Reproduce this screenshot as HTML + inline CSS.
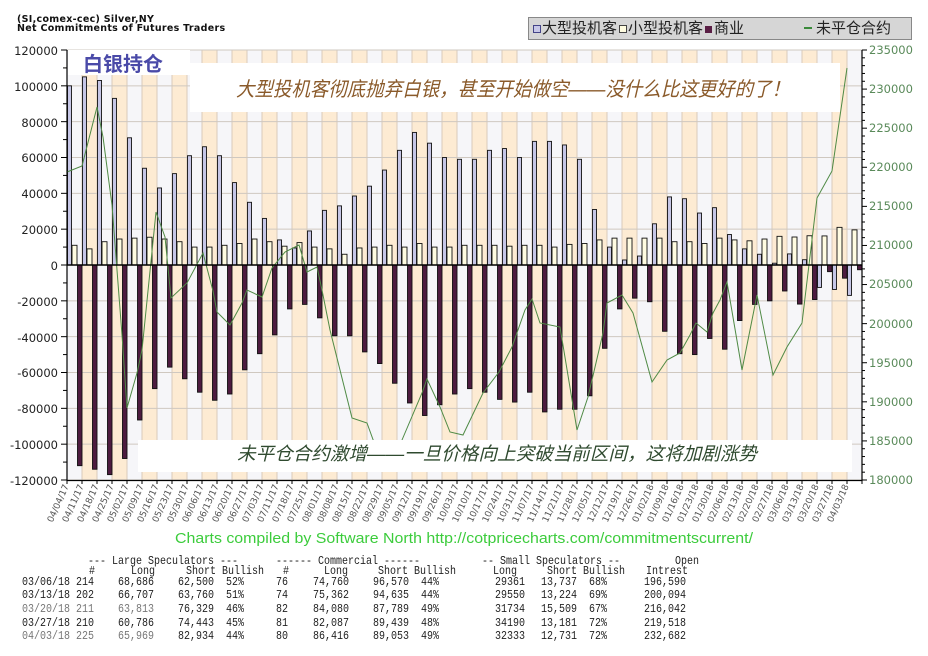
<!DOCTYPE html>
<html><head><meta charset="utf-8">
<style>
html,body{margin:0;padding:0;background:#fff;}
body{width:928px;height:656px;position:relative;overflow:hidden;font-family:"Liberation Sans","Noto Sans CJK SC",sans-serif;}
.t{position:absolute;font-family:"Liberation Mono","DejaVu Sans Mono",monospace;font-size:10px;color:#222;white-space:pre;line-height:12px;transform:scaleY(1.15);}
.g{color:#777;}
</style></head><body>
<div style="position:absolute;left:17px;top:15px;font-family:'DejaVu Sans',sans-serif;font-weight:bold;font-size:9.5px;line-height:9px;color:#111;letter-spacing:0.3px">(SI,comex-cec) Silver,NY<br>Net Commitments of Futures Traders</div>
<div style="position:absolute;left:528px;top:17px;width:384px;height:23px;background:#d6d6d6;border:1px solid #888;box-sizing:border-box;font-family:'DejaVu Sans','Noto Sans CJK SC',sans-serif;font-size:15px;line-height:21px;color:#222;white-space:nowrap;">
<span style="display:inline-block;width:6px;height:6px;border:1px solid #448;background:#c8c8e8;margin:0 1px 0 4px"></span>大型投机客<span style="display:inline-block;width:6px;height:6px;border:1px solid #444;background:#fffce0;margin:0 1px 0 2px"></span>小型投机客<span style="display:inline-block;width:7px;height:7px;background:#5a1f45;margin:0 2px 0 2px"></span>商业<span style="display:inline-block;width:8px;height:2px;background:#3a8a3a;margin:0 4px 4px 60px"></span>未平仓合约</div>
<svg id="c" width="928" height="656" style="position:absolute;left:0;top:0" xmlns="http://www.w3.org/2000/svg">
<g id="bg"></g>
<g id="bars"></g>
<polyline fill="none" stroke="#4f8a45" stroke-width="1" points="67,172 82,166 97,107 103,137 112,205 122,335 127,408 137,373 142,350 156,212 165,237 171,298 187,283 203,253 213,291 217,312 230,325 242,303 247,290 262,297 272,268 285,252 299,245 307,272 317,267 322,290 330,330 340,370 352,418 367,423 375,445 390,470 402,440 422,393 427,379 440,407 450,432 463,435 483,393 499,372 512,347 525,310 532,299 540,323 560,327 577,430 588,397 603,333 607,303 622,295 633,313 652,382 667,360 680,353 690,335 696,323 707,332 713,313 720,300 727,282 742,370 757,295 773,375 787,347 802,323 817,198 832,171 847,68"/>
<rect x="68" y="50" width="122" height="25" fill="#fff"/>
<rect x="190" y="63" width="650" height="49" fill="#fff"/>
<rect x="138" y="440" width="714" height="32" fill="#fff"/>
<text x="83" y="71" font-family="Liberation Sans,Noto Sans CJK SC,sans-serif" font-size="20" font-weight="bold" fill="#4a4aa8">白银持仓</text>
<text x="236" y="96" font-family="Liberation Sans,Noto Sans CJK SC,sans-serif" font-size="20" font-style="italic" fill="#8a5a2a" textLength="554" lengthAdjust="spacingAndGlyphs">大型投机客彻底抛弃白银，甚至开始做空——没什么比这更好的了！</text>
<text x="237" y="460" font-family="Liberation Sans,Noto Sans CJK SC,sans-serif" font-size="18.5" font-style="italic" fill="#2f4a2f" textLength="520" lengthAdjust="spacingAndGlyphs">未平仓合约激增——一旦价格向上突破当前区间，这将加剧涨势</text>
<g id="axes" stroke="#000" stroke-width="1.2"><line x1="67" y1="50" x2="67" y2="481"/><line x1="862" y1="50" x2="862" y2="481"/><line x1="67" y1="480.5" x2="862" y2="480.5"/><line x1="67" y1="265" x2="862" y2="265" stroke-width="1.5"/></g>
<g id="ticks" stroke="#000" stroke-width="1"></g>
<g font-family="DejaVu Sans,sans-serif" font-size="11.5" fill="#222" text-anchor="end">
<text x="58" y="55">120000</text><text x="58" y="91">100000</text><text x="58" y="127">80000</text><text x="58" y="162">60000</text><text x="58" y="198">40000</text><text x="58" y="234">20000</text><text x="58" y="270">0</text><text x="58" y="306">-20000</text><text x="58" y="342">-40000</text><text x="58" y="377">-60000</text><text x="58" y="413">-80000</text><text x="58" y="449">-100000</text><text x="58" y="485">-120000</text>
</g>
<g font-family="DejaVu Sans,sans-serif" font-size="11.5" fill="#5a8a5a">
<text x="869" y="54">235000</text><text x="869" y="93">230000</text><text x="869" y="132">225000</text><text x="869" y="171">220000</text><text x="869" y="210">215000</text><text x="869" y="249">210000</text><text x="869" y="288">205000</text><text x="869" y="328">200000</text><text x="869" y="367">195000</text><text x="869" y="406">190000</text><text x="869" y="445">185000</text><text x="869" y="484">180000</text>
</g>
<g font-family="DejaVu Sans,sans-serif" font-size="9" fill="#555" text-anchor="end" id="dl">
<text transform="translate(69,486) rotate(-66)">04/04/17</text>
<text transform="translate(84,486) rotate(-66)">04/11/17</text>
<text transform="translate(99,486) rotate(-66)">04/18/17</text>
<text transform="translate(114,486) rotate(-66)">04/25/17</text>
<text transform="translate(129,486) rotate(-66)">05/02/17</text>
<text transform="translate(144,486) rotate(-66)">05/09/17</text>
<text transform="translate(159,486) rotate(-66)">05/16/17</text>
<text transform="translate(174,486) rotate(-66)">05/23/17</text>
<text transform="translate(189,486) rotate(-66)">05/30/17</text>
<text transform="translate(204,486) rotate(-66)">06/06/17</text>
<text transform="translate(219,486) rotate(-66)">06/13/17</text>
<text transform="translate(234,486) rotate(-66)">06/20/17</text>
<text transform="translate(249,486) rotate(-66)">06/27/17</text>
<text transform="translate(264,486) rotate(-66)">07/03/17</text>
<text transform="translate(279,486) rotate(-66)">07/11/17</text>
<text transform="translate(294,486) rotate(-66)">07/18/17</text>
<text transform="translate(309,486) rotate(-66)">07/25/17</text>
<text transform="translate(324,486) rotate(-66)">08/01/17</text>
<text transform="translate(339,486) rotate(-66)">08/08/17</text>
<text transform="translate(354,486) rotate(-66)">08/15/17</text>
<text transform="translate(369,486) rotate(-66)">08/22/17</text>
<text transform="translate(384,486) rotate(-66)">08/29/17</text>
<text transform="translate(399,486) rotate(-66)">09/05/17</text>
<text transform="translate(414,486) rotate(-66)">09/12/17</text>
<text transform="translate(429,486) rotate(-66)">09/19/17</text>
<text transform="translate(444,486) rotate(-66)">09/26/17</text>
<text transform="translate(459,486) rotate(-66)">10/03/17</text>
<text transform="translate(474,486) rotate(-66)">10/10/17</text>
<text transform="translate(489,486) rotate(-66)">10/17/17</text>
<text transform="translate(504,486) rotate(-66)">10/24/17</text>
<text transform="translate(519,486) rotate(-66)">10/31/17</text>
<text transform="translate(534,486) rotate(-66)">11/07/17</text>
<text transform="translate(549,486) rotate(-66)">11/14/17</text>
<text transform="translate(564,486) rotate(-66)">11/21/17</text>
<text transform="translate(579,486) rotate(-66)">11/28/17</text>
<text transform="translate(594,486) rotate(-66)">12/05/17</text>
<text transform="translate(609,486) rotate(-66)">12/12/17</text>
<text transform="translate(624,486) rotate(-66)">12/19/17</text>
<text transform="translate(639,486) rotate(-66)">12/26/17</text>
<text transform="translate(654,486) rotate(-66)">01/02/18</text>
<text transform="translate(669,486) rotate(-66)">01/09/18</text>
<text transform="translate(684,486) rotate(-66)">01/16/18</text>
<text transform="translate(699,486) rotate(-66)">01/23/18</text>
<text transform="translate(714,486) rotate(-66)">01/30/18</text>
<text transform="translate(729,486) rotate(-66)">02/06/18</text>
<text transform="translate(744,486) rotate(-66)">02/13/18</text>
<text transform="translate(759,486) rotate(-66)">02/20/18</text>
<text transform="translate(774,486) rotate(-66)">02/27/18</text>
<text transform="translate(789,486) rotate(-66)">03/06/18</text>
<text transform="translate(804,486) rotate(-66)">03/13/18</text>
<text transform="translate(819,486) rotate(-66)">03/20/18</text>
<text transform="translate(834,486) rotate(-66)">03/27/18</text>
<text transform="translate(849,486) rotate(-66)">04/03/18</text>
</g>
<text x="175" y="543" font-family="Liberation Sans,sans-serif" font-size="15" fill="#3ccc3c" textLength="578" lengthAdjust="spacingAndGlyphs">Charts compiled by Software North  http://cotpricecharts.com/commitmentscurrent/</text>
</svg>
<div class="t" style="left:88px;top:557px">--- Large Speculators ---</div>
<div class="t" style="left:276px;top:557px">------ Commercial ------</div>
<div class="t" style="left:482px;top:557px">-- Small Speculators --</div>
<div class="t" style="left:663px;top:557px">  Open</div>
<div class="t" style="left:89px;top:567px">#</div><div class="t" style="left:131px;top:567px">Long</div><div class="t" style="left:186px;top:567px">Short Bullish</div>
<div class="t" style="left:283px;top:567px">#</div><div class="t" style="left:324px;top:567px">Long</div><div class="t" style="left:378px;top:567px">Short Bullish</div>
<div class="t" style="left:493px;top:567px">Long</div><div class="t" style="left:547px;top:567px">Short Bullish</div><div class="t" style="left:646px;top:567px">Intrest</div>

<div class="t" style="left:22px;top:578px">03/06/18 214</div><div class="t" style="left:118px;top:578px">68,686</div><div class="t" style="left:178px;top:578px">62,500  52%</div><div class="t" style="left:276px;top:578px">76</div><div class="t" style="left:313px;top:578px">74,760</div><div class="t" style="left:373px;top:578px">96,570  44%</div><div class="t" style="left:495px;top:578px">29361</div><div class="t" style="left:541px;top:578px">13,737  68%</div><div class="t" style="left:644px;top:578px">196,590</div>
<div class="t" style="left:22px;top:591px">03/13/18 202</div><div class="t" style="left:118px;top:591px">66,707</div><div class="t" style="left:178px;top:591px">63,760  51%</div><div class="t" style="left:276px;top:591px">74</div><div class="t" style="left:313px;top:591px">75,362</div><div class="t" style="left:373px;top:591px">94,635  44%</div><div class="t" style="left:495px;top:591px">29550</div><div class="t" style="left:541px;top:591px">13,224  69%</div><div class="t" style="left:644px;top:591px">200,094</div>
<div class="t" style="left:22px;top:605px"><span class="g">03/20/18 211</span></div><div class="t g" style="left:118px;top:605px">63,813</div><div class="t" style="left:178px;top:605px">76,329  46%</div><div class="t" style="left:276px;top:605px">82</div><div class="t" style="left:313px;top:605px">84,080</div><div class="t" style="left:373px;top:605px">87,789  49%</div><div class="t" style="left:495px;top:605px">31734</div><div class="t" style="left:541px;top:605px">15,509  67%</div><div class="t" style="left:644px;top:605px">216,042</div>
<div class="t" style="left:22px;top:619px">03/27/18 210</div><div class="t" style="left:118px;top:619px">60,786</div><div class="t" style="left:178px;top:619px">74,443  45%</div><div class="t" style="left:276px;top:619px">81</div><div class="t" style="left:313px;top:619px">82,087</div><div class="t" style="left:373px;top:619px">89,439  48%</div><div class="t" style="left:495px;top:619px">34190</div><div class="t" style="left:541px;top:619px">13,181  72%</div><div class="t" style="left:644px;top:619px">219,518</div>
<div class="t" style="left:22px;top:632px"><span class="g">04/03/18 225</span></div><div class="t g" style="left:118px;top:632px">65,969</div><div class="t" style="left:178px;top:632px">82,934  44%</div><div class="t" style="left:276px;top:632px">80</div><div class="t" style="left:313px;top:632px">86,416</div><div class="t" style="left:373px;top:632px">89,053  49%</div><div class="t" style="left:495px;top:632px">32333</div><div class="t" style="left:541px;top:632px">12,731  72%</div><div class="t" style="left:644px;top:632px">232,682</div>
<script>
(function(){
var NS="http://www.w3.org/2000/svg";
function r(g,x,y,w,h,f,s){var e=document.createElementNS(NS,"rect");e.setAttribute("x",x);e.setAttribute("y",y);e.setAttribute("width",w);e.setAttribute("height",h);e.setAttribute("fill",f);if(s){e.setAttribute("stroke",s);e.setAttribute("stroke-width","0.9");}g.appendChild(e);}
function l(g,x1,y1,x2,y2,c){var e=document.createElementNS(NS,"line");e.setAttribute("x1",x1);e.setAttribute("y1",y1);e.setAttribute("x2",x2);e.setAttribute("y2",y2);if(c)e.setAttribute("stroke",c);g.appendChild(e);}
var bg=document.getElementById("bg"),bars=document.getElementById("bars"),tk=document.getElementById("ticks");
var L=[100000,105000,103000,93000,71000,54000,43000,51000,61000,66000,61000,46000,35000,26000,14000,9500,19000,30500,33000,38500,44000,53000,64000,74000,68000,60000,59000,59000,64000,65000,60000,69000,69000,67000,59000,31000,10000,2800,5000,23000,38000,37000,29000,32000,17000,9000,6000,1000,6186,2947,-12516,-13657,-16965];
var S=[11000,9000,13000,14500,15000,15500,14500,13000,10000,10000,11000,12000,14500,13000,10500,12500,10000,9000,6000,9500,10000,11000,10000,12000,10000,10000,11000,11000,11000,10500,11000,11000,10000,11500,12000,14000,15000,15000,15000,15000,13000,13000,12000,15000,14000,13500,14500,16000,15624,16326,16225,21009,19602];
var C=[-112000,-114000,-117000,-108000,-86500,-69000,-57000,-63500,-71000,-75500,-72000,-58500,-49500,-39000,-24500,-22000,-29500,-39500,-39500,-48500,-55000,-66000,-77000,-84000,-78000,-72000,-69000,-71000,-75000,-76500,-71000,-82000,-80500,-80500,-73000,-46500,-24500,-18500,-20500,-37000,-49500,-50000,-41000,-47000,-31000,-22000,-20000,-14500,-21810,-19273,-3709,-7352,-2637];
function y(v){return 265-v*0.0017917;}
for(var i=0;i<53;i++){var x0=67+15*i;r(bg,x0,50,15,430,i%2?"#fdebd3":"#f6f6f9");l(bg,x0,50,x0,480,"#d9cbbb");}
for(var k=-120000;k<=120000;k+=20000){if(k!==0)l(bg,67,y(k),862,y(k),"#cfc8c0");}
function bar(x,w,v,f){var a=y(v),b=265;r(bars,x,Math.min(a,b),w,Math.abs(a-b),f,"#111");}
for(i=0;i<53;i++){var x0=67+15*i;bar(x0+0.5,4,L[i],"#c6c6e6");bar(x0+5,5,S[i],"#fffce2");bar(x0+10.5,4.5,C[i],"#4d1b3f");}
for(k=-120000;k<=120000;k+=10000){var yy=y(k);l(tk,k%20000?63:61,yy,67,yy);}
for(k=180000;k<=235000;k+=1000){var yy=50+(235000-k)*0.0078182;l(tk,862,yy,k%5000?865:867,yy);}
for(i=0;i<=53;i++){l(tk,67+15*i,480,67+15*i,484);}
})();
</script>
</body></html>
